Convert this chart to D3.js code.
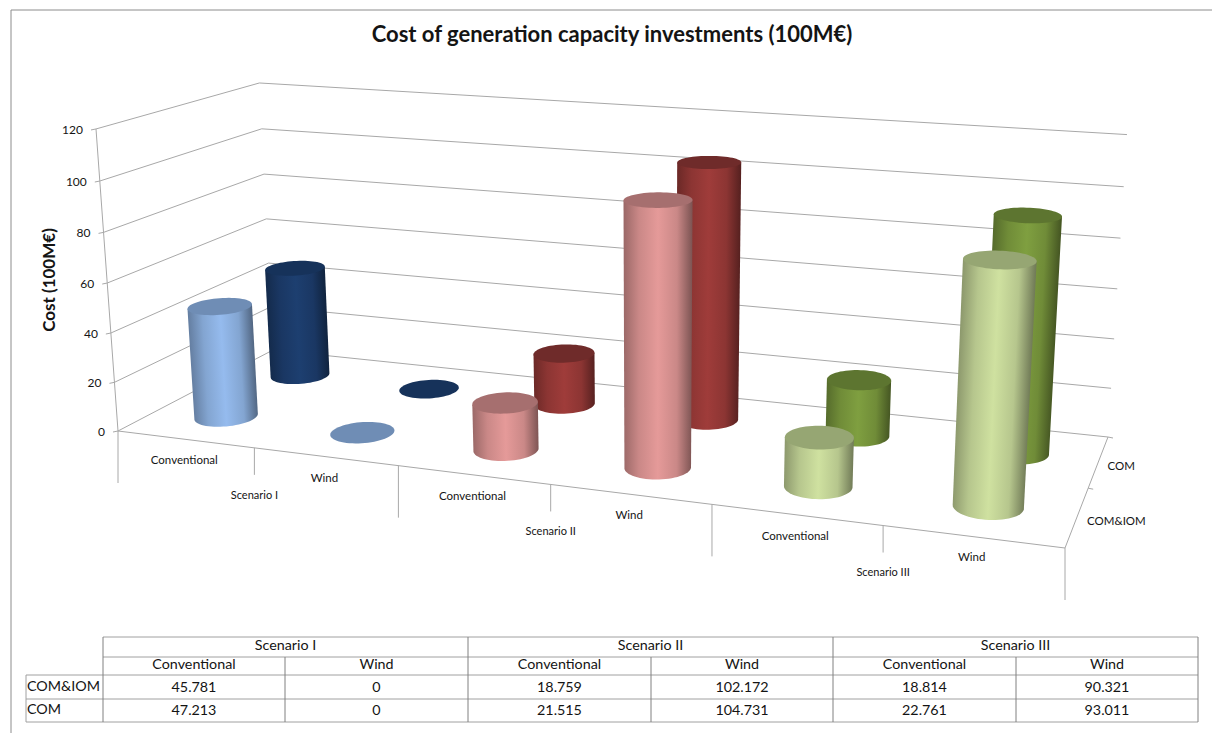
<!DOCTYPE html>
<html>
<head>
<meta charset="utf-8">
<script src="https://cdn.jsdelivr.net/npm/d3@7"></script>
<style>
  html, body { margin: 0; padding: 0; background: #fff; overflow: hidden; }
  text { font-family: Lato, sans-serif; fill: #141414; }
</style>
</head>
<body>
<div id="chart"></div>
<script>
var scenarios = ['Scenario I', 'Scenario II', 'Scenario III'];
var technologies = ['Conventional', 'Wind', 'Conventional', 'Wind', 'Conventional', 'Wind'];
var seriesNames = ['COM&IOM', 'COM'];
var comIomValues = [45.781, 0, 18.759, 102.172, 18.814, 90.321];
var comValues = [47.213, 0, 21.515, 104.731, 22.761, 93.011];
var comIomLabels = ['45.781', '0', '18.759', '102.172', '18.814', '90.321'];
var comLabels = ['47.213', '0', '21.515', '104.731', '22.761', '93.011'];
var yTicks = [0, 20, 40, 60, 80, 100, 120];

// side colour, then lid colour, one pair for each scenario
var comIomSide = ['#95bbee', '#e59a99', '#cfe1a0'];
var comIomLid = ['#6f8db5', '#a66f6f', '#96a673'];
var comSide = ['#1d3f70', '#9f3c3a', '#7f9f40'];
var comLid = ['#16325a', '#6f2b2a', '#5d7530'];

var chartWidth = 1212;
var chartHeight = 733;
var gridColor = '#a8a8a8';

var svg = d3.select('#chart')
    .append('svg')
    .attr('width', chartWidth)
    .attr('height', chartHeight);
var defs = svg.append('defs');

// Scales in the box's own coordinates
var scaleU = d3.scaleBand().domain(d3.range(6)).range([0, 1]);
var scaleV = d3.scaleBand().domain([0, 1]).range([0, 1]);
var scaleY = d3.scaleLinear().domain([0, 120]).range([0, 1]);

// Floor corners: front left, front right, back right, back left
var floorPlane = homography([[118, 431], [1065, 548], [1108, 437], [273, 350]]);
// Uprights all run towards one vanishing point below the picture
var vanish = [650, 7737];
var heightK = 0.0397;
// How the height scale shrinks across and into the box, tuned by eye
var heightTiltU = -0.14;
var heightTiltV = 0.138;

function homography(q) {
  var dx1 = q[1][0] - q[2][0];
  var dx2 = q[3][0] - q[2][0];
  var sx = q[0][0] - q[1][0] + q[2][0] - q[3][0];
  var dy1 = q[1][1] - q[2][1];
  var dy2 = q[3][1] - q[2][1];
  var sy = q[0][1] - q[1][1] + q[2][1] - q[3][1];
  var det = dx1 * dy2 - dx2 * dy1;
  var g = (sx * dy2 - dx2 * sy) / det;
  var h = (dx1 * sy - sx * dy1) / det;
  var a = q[1][0] - q[0][0] + g * q[1][0];
  var b = q[3][0] - q[0][0] + h * q[3][0];
  var d = q[1][1] - q[0][1] + g * q[1][1];
  var e = q[3][1] - q[0][1] + h * q[3][1];
  return function(u, v) {
    var w = g * u + h * v + 1;
    return [(a * u + b * v + q[0][0]) / w, (d * u + e * v + q[0][1]) / w];
  };
}

function project(u, v, value) {
  var p = floorPlane(u, v);
  var w = 1 + heightTiltU * u + heightTiltV * v;
  var t = -heightK * scaleY(value);
  var s = t / (w + t);
  return [p[0] + (vanish[0] - p[0]) * s, p[1] + (vanish[1] - p[1]) * s];
}

function line(p, q, color) {
  svg.append('line')
      .attr('x1', p[0])
      .attr('y1', p[1])
      .attr('x2', q[0])
      .attr('y2', q[1])
      .attr('stroke', color || gridColor)
      .attr('stroke-width', 1);
}

function label(x, y, text, size, weight, anchor) {
  return svg.append('text')
      .attr('x', x)
      .attr('y', y)
      .attr('text-anchor', anchor || 'middle')
      .attr('dominant-baseline', 'middle')
      .attr('font-size', size)
      .attr('font-weight', weight || 'normal')
      .text(text);
}

// Outer frame of the screenshot
line([11, 10], [chartWidth, 10], '#8c8c8c');
line([11, 10], [11, chartHeight], '#8c8c8c');

label(612, 36, 'Cost of generation capacity investments (100M€)', 22, 'bold');
label(51, 280, 'Cost (100M€)', 17, 'bold')
    .attr('transform', 'rotate(-90 51 280)');

// Walls
yTicks.forEach(function(t) {
  var front = project(0, 0, t);
  var back = project(0, 1, t);
  var right = project(1, 1, t);
  line(front, back);
  line(back, right);
  line([front[0] - 5, front[1] + 1], front);
  label(front[0] - 13, front[1] + 2, t, 12, 'normal', 'end');
});
line(project(0, 0, 0), project(0, 0, 120));

// Floor edges, ticks and axis labels
line(project(0, 0, 0), project(1, 0, 0));
line(project(1, 0, 0), project(1, 1, 0));
d3.range(7).forEach(function(i) {
  var p = floorPlane(i / 6, 0);
  line(p, [p[0], p[1] + (i % 2 === 0 ? 52 : 27)]);
});
[0.5, 1].forEach(function(v) {
  var q = floorPlane(1, v);
  line(q, [q[0] + 5, q[1] + 1]);
});
technologies.forEach(function(name, i) {
  var p = floorPlane(scaleU(i) + scaleU.bandwidth() / 2, 0);
  label(p[0] - 1, p[1] + 22, name, 11.5);
});
scenarios.forEach(function(name, i) {
  var p = floorPlane((i + 0.5) / 3, 0);
  label(p[0], p[1] + 48, name, 11);
});
seriesNames.forEach(function(name, r) {
  var p = floorPlane(1, scaleV(r) + scaleV.bandwidth() / 2);
  label(p[0] + (r === 0 ? 10 : 9), p[1] + 5, name, 11.5, 'normal', 'start');
});

// Cylinders
function ellipsePoints(u, v, value) {
  var ru = scaleU.bandwidth() * 0.2;
  var rv = scaleV.bandwidth() * 0.22;
  return d3.range(64).map(function(k) {
    var a = k / 64 * Math.PI * 2;
    return project(u + ru * Math.cos(a), v + rv * Math.sin(a), value);
  });
}

function drawCylinder(i, r, value, side, lid) {
  var u = scaleU(i) + scaleU.bandwidth() / 2;
  var v = scaleV(r) + scaleV.bandwidth() / 2;
  var bottom = ellipsePoints(u, v, 0);
  var top = ellipsePoints(u, v, value);
  var path = d3.line();

  if (value > 0) {
    var id = 'side-' + r + '-' + i;
    var lo = d3.scan(bottom, function(a, b) { return a[0] - b[0]; });
    var hi = d3.scan(bottom, function(a, b) { return b[0] - a[0]; });
    // walk the front of the base from left to right, the front is where sin < 0
    var arc = [];
    for (var k = lo; k !== hi; k = (k + 1) % 64) {
      arc.push(bottom[k]);
    }
    arc.push(bottom[hi]);
    var lo2 = d3.scan(top, function(a, b) { return a[0] - b[0]; });
    var hi2 = d3.scan(top, function(a, b) { return b[0] - a[0]; });
    var outline = arc.concat([top[hi2], top[lo2]]);

    var cx0 = d3.mean(bottom, function(d) { return d[0]; });
    var cy0 = d3.mean(bottom, function(d) { return d[1]; });
    var cx1 = d3.mean(top, function(d) { return d[0]; });
    var cy1 = d3.mean(top, function(d) { return d[1]; });
    var len = Math.hypot(cx1 - cx0, cy1 - cy0);
    var nx = (cy0 - cy1) / len;
    var ny = (cx1 - cx0) / len;
    var halfW = (bottom[hi][0] - bottom[lo][0] + top[hi2][0] - top[lo2][0]) / 4;
    var mx = (cx0 + cx1) / 2;
    var my = (cy0 + cy1) / 2;

    var black = d3.interpolateRgb('#000', side);
    var gradient = defs.append('linearGradient')
        .attr('id', id)
        .attr('gradientUnits', 'userSpaceOnUse')
        .attr('x1', mx - nx * halfW)
        .attr('y1', my - ny * halfW)
        .attr('x2', mx + nx * halfW)
        .attr('y2', my + ny * halfW);
    [[0, 0.68], [0.22, 0.88], [0.5, 1], [0.78, 0.88], [1, 0.55]].forEach(function(s) {
      gradient.append('stop')
          .attr('offset', s[0])
          .attr('stop-color', black(s[1]));
    });

    svg.append('path')
        .attr('d', path(outline) + 'Z')
        .attr('fill', 'url(#' + id + ')');
  }

  svg.append('path')
      .attr('d', path(top) + 'Z')
      .attr('fill', lid);
}

// Back row first so the front row overlaps it
[1, 0].forEach(function(r) {
  var values = r === 0 ? comIomValues : comValues;
  var sides = r === 0 ? comIomSide : comSide;
  var lids = r === 0 ? comIomLid : comLid;
  values.forEach(function(value, i) {
    drawCylinder(i, r, value, sides[Math.floor(i / 2)], lids[Math.floor(i / 2)]);
  });
});

// Data table
var columns = [103, 285, 468, 651, 833, 1016, 1198];
var rows = [637, 657, 675, 699, 722];
var tableSize = 14.3;

rows.forEach(function(y, k) {
  line([k < 2 ? columns[0] : 26, y], [columns[6], y], '#a0a0a0');
});
line([26, rows[2]], [26, rows[4]], '#a0a0a0');
columns.forEach(function(x, k) {
  line([x, k % 2 === 0 ? rows[0] : rows[1]], [x, rows[4]], '#808080');
});
scenarios.forEach(function(name, i) {
  label((columns[i * 2] + columns[i * 2 + 2]) / 2, 646, name, tableSize);
});
technologies.forEach(function(name, i) {
  label((columns[i] + columns[i + 1]) / 2, 665, name, tableSize);
});
[comIomLabels, comLabels].forEach(function(values, r) {
  label(27, (rows[r + 2] + rows[r + 3]) / 2, seriesNames[r], tableSize, 'normal', 'start');
  values.forEach(function(text, i) {
    label((columns[i] + columns[i + 1]) / 2, (rows[r + 2] + rows[r + 3]) / 2 + 1, text, tableSize);
  });
});
</script>
</body>
</html>
